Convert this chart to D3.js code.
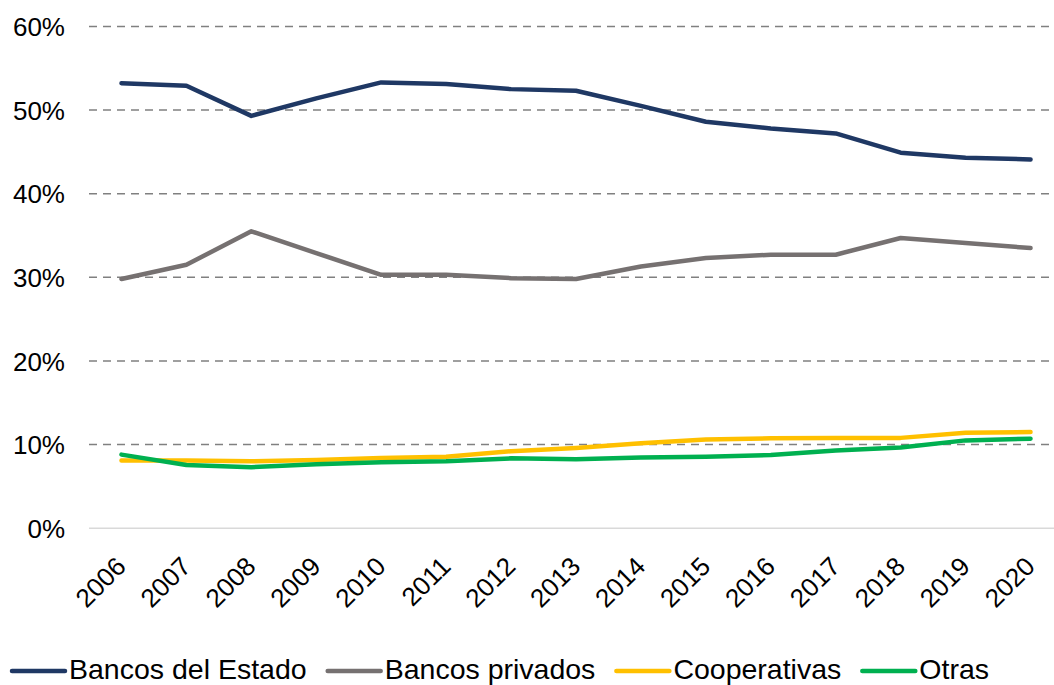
<!DOCTYPE html>
<html>
<head>
<meta charset="utf-8">
<script src="https://cdn.jsdelivr.net/npm/d3@7"></script>
<style>
  html, body { margin: 0; padding: 0; background: #fff; }
  svg { display: block; font-family: "Liberation Sans", Arial, sans-serif; }
</style>
</head>
<body>
<svg id="chart" width="1054" height="685"></svg>
<script>
// Years on the x axis
const years = ["2006","2007","2008","2009","2010","2011","2012","2013","2014","2015","2016","2017","2018","2019","2020"];

// Share of each institution type (%)
const bancosEstado   = [53.2, 52.9, 49.3, 51.4, 53.3, 53.1, 52.5, 52.3, 50.5, 48.6, 47.8, 47.2, 44.9, 44.3, 44.1];
const bancosPrivados = [29.8, 31.5, 35.5, 32.9, 30.3, 30.3, 29.9, 29.8, 31.3, 32.3, 32.7, 32.7, 34.7, 34.1, 33.5];
const cooperativas   = [8.1, 8.1, 8.0, 8.15, 8.4, 8.55, 9.2, 9.6, 10.15, 10.6, 10.75, 10.8, 10.8, 11.4, 11.5];
const otras          = [8.8, 7.55, 7.3, 7.65, 7.9, 8.0, 8.35, 8.25, 8.45, 8.55, 8.75, 9.3, 9.65, 10.5, 10.7];

const seriesNames  = ["Bancos del Estado", "Bancos privados", "Cooperativas", "Otras"];
const seriesValues = [bancosEstado, bancosPrivados, cooperativas, otras];
const seriesColors = ["#1f3864", "#767171", "#ffc000", "#00b050"];

// Y axis ticks (%)
const yTicks = [0, 10, 20, 30, 40, 50, 60];

const svg = d3.select("#chart");
const plot = { left: 89, right: 1063, top: 26.4, bottom: 528.2 };

const x = d3.scaleBand().domain(years).range([plot.left, plot.right]);
const y = d3.scaleLinear().domain([0, 60]).range([plot.bottom, plot.top]);
const cx = d => x(d) + x.bandwidth() / 2;

// Dashed horizontal gridlines
svg.append("g")
  .selectAll("line")
  .data(yTicks.filter(t => t > 0))
  .join("line")
  .attr("x1", plot.left).attr("x2", plot.right)
  .attr("y1", d => y(d)).attr("y2", d => y(d))
  .attr("stroke", "#808080")
  .attr("stroke-width", 1.5)
  .attr("stroke-dasharray", "8,6");

// Baseline at 0%
svg.append("line")
  .attr("x1", plot.left).attr("x2", plot.right)
  .attr("y1", y(0)).attr("y2", y(0))
  .attr("stroke", "#d9d9d9")
  .attr("stroke-width", 1.5);

// Y axis labels
const yAxis = d3.axisLeft(y).tickValues(yTicks).tickFormat(d => d + "%").tickSize(0).tickPadding(0);
const gy = svg.append("g").attr("transform", "translate(65,0)").call(yAxis);
gy.select(".domain").remove();
gy.selectAll("text")
  .attr("font-size", 26)
  .attr("font-family", "Liberation Sans, Arial, sans-serif")
  .attr("fill", "#000")
  .attr("dy", "0.35em");

// X axis labels, rotated
const xAxis = d3.axisBottom(x).tickSize(0).tickPadding(0);
const gx = svg.append("g").call(xAxis);
gx.select(".domain").remove();
gx.selectAll(".tick").attr("transform", d => `translate(${cx(d) + 6},568)`);
gx.selectAll("text")
  .attr("font-size", 26)
  .attr("font-family", "Liberation Sans, Arial, sans-serif")
  .attr("fill", "#000")
  .attr("text-anchor", "end")
  .attr("dy", 0)
  .attr("y", 0)
  .attr("transform", "rotate(-45)");

// Series lines
const line = d3.line()
  .x((d, i) => cx(years[i]))
  .y(d => y(d));

svg.append("g")
  .selectAll("path")
  .data(seriesValues)
  .join("path")
  .attr("d", d => line(d))
  .attr("fill", "none")
  .attr("stroke", (d, i) => seriesColors[i])
  .attr("stroke-width", 4.5)
  .attr("stroke-linejoin", "round")
  .attr("stroke-linecap", "round");

// Legend along the bottom
const legend = svg.append("g");
let lx = 12;
const ly = 671;
seriesNames.forEach((name, i) => {
  legend.append("line")
    .attr("x1", lx).attr("x2", lx + 53)
    .attr("y1", ly).attr("y2", ly)
    .attr("stroke", seriesColors[i])
    .attr("stroke-width", 4.5)
    .attr("stroke-linecap", "round");
  const t = legend.append("text")
    .attr("x", lx + 57)
    .attr("y", 679)
    .attr("font-size", 28.5)
    .attr("fill", "#000")
    .text(name);
  lx += 57 + t.node().getComputedTextLength() + 21;
});
</script>
</body>
</html>
